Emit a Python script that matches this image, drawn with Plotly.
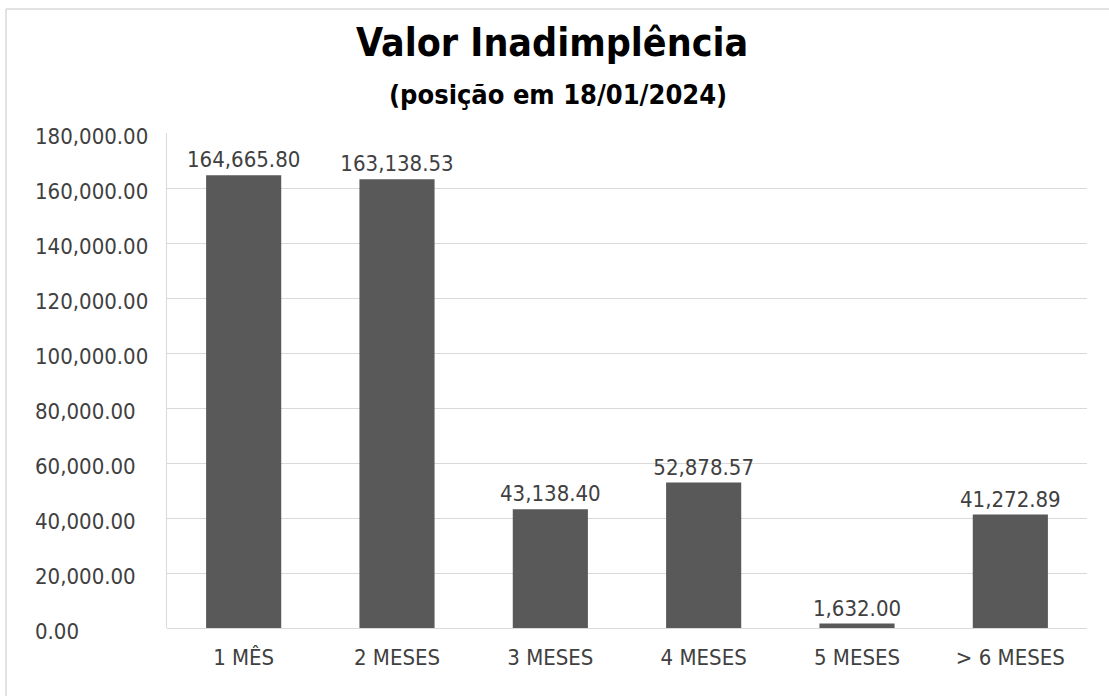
import plotly.graph_objects as go

categories = ["1 MÊS", "2 MESES", "3 MESES", "4 MESES", "5 MESES", "> 6 MESES"]
values = [164665.80, 163138.53, 43138.40, 52878.57, 1632.00, 41272.89]
y_ticks = list(range(0, 180001, 20000))

W, H = 1109, 696
L, R, T, B = 167, 22, 133, 68
pw, ph = W - L - R, H - T - B

FONT = "DejaVu Sans Condensed, DejaVu Sans, sans-serif"
TXT = "#404040"
GRID = "#d9d9d9"


def px_x(x):
    return (x - L) / pw


def px_y(y):
    return (H - B - y) / ph


fig = go.Figure(go.Bar(
    x=categories,
    y=values,
    width=0.49,
    marker=dict(color="#595959", line=dict(width=0)),
    text=[f"{v:,.2f}" for v in values],
    textposition="outside",
    constraintext="none",
    cliponaxis=False,
    textfont=dict(family=FONT, size=22, color=TXT),
))

# value-axis labels, left-aligned in the margin
tick_labels = [
    dict(text=f"{v:,.2f}", xref="paper", yref="y", x=px_x(33), y=v,
         xanchor="left", yanchor="middle", yshift=-3, showarrow=False,
         font=dict(family=FONT, size=22, color=TXT))
    for v in y_ticks
]

fig.update_layout(
    width=W, height=H,
    margin=dict(l=L, r=R, t=T, b=B),
    paper_bgcolor="white",
    plot_bgcolor="white",
    showlegend=False,
    font=dict(family=FONT, color=TXT),
    xaxis=dict(
        range=[-0.5, 5.5],
        showgrid=False,
        showline=False,
        ticks="",
        tickfont=dict(family=FONT, size=22, color=TXT),
        ticklabelstandoff=14,
    ),
    yaxis=dict(
        range=[0, 180000],
        tickvals=y_ticks,
        showticklabels=False,
        showgrid=True,
        gridcolor=GRID,
        gridwidth=1.3,
        zeroline=True,
        zerolinecolor=GRID,
        zerolinewidth=1.3,
        showline=True,
        linecolor=GRID,
        linewidth=1.3,
        ticks="",
    ),
    shapes=[
        dict(type="line", xref="paper", yref="paper",
             x0=px_x(6), x1=px_x(W + 10), y0=px_y(9), y1=px_y(9),
             line=dict(color=GRID, width=1.5), layer="below"),
        dict(type="line", xref="paper", yref="paper",
             x0=px_x(6), x1=px_x(6), y0=px_y(9), y1=px_y(H + 10),
             line=dict(color=GRID, width=1.5), layer="below"),
    ],
    annotations=tick_labels + [
        dict(text="<b>Valor Inadimplência</b>", xref="paper", yref="paper",
             x=px_x(552), y=px_y(43), xanchor="center", yanchor="middle",
             showarrow=False, font=dict(family=FONT, size=39, color="#000000")),
        dict(text="<b>(posição em 18/01/2024)</b>", xref="paper", yref="paper",
             x=px_x(558), y=px_y(95), xanchor="center", yanchor="middle",
             showarrow=False, font=dict(family=FONT, size=27, color="#000000")),
    ],
)

fig.write_html("out.html")
